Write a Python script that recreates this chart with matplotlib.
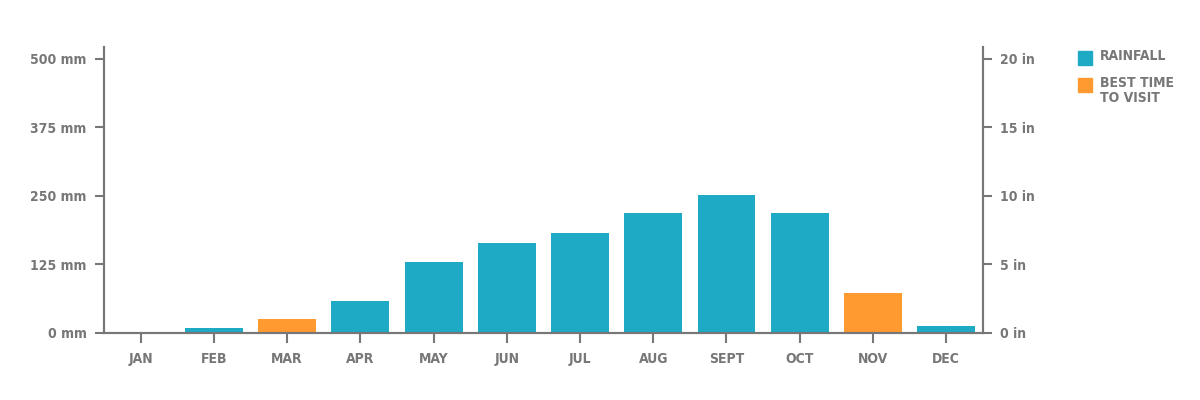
import matplotlib
matplotlib.use("Agg")
import matplotlib.pyplot as plt
from matplotlib.patches import Rectangle

months = ["JAN", "FEB", "MAR", "APR", "MAY", "JUN", "JUL", "AUG", "SEPT", "OCT", "NOV", "DEC"]
rain_mm = [0, 8, 25, 58, 129, 164, 182, 219, 252, 219, 72, 12]
best_time = [False, False, True, False, False, False, False, False, False, False, True, False]
mm_ticks = [0, 125, 250, 375, 500]
in_ticks = [0, 5, 10, 15, 20]
legend_labels = ["RAINFALL", "BEST TIME\nTO VISIT"]

teal = "#1eaac5"
orange = "#ff9a30"
grey = "#777777"

plt.rcParams["font.family"] = ["DejaVu Sans"]
plt.rcParams["font.stretch"] = "condensed"
plt.rcParams["font.weight"] = "bold"

fig = plt.figure(figsize=(12, 4), dpi=100)
ax = fig.add_axes([0.0867, 0.168, 0.7323, 0.715])

colours = [orange if b else teal for b in best_time]
ax.bar(range(len(months)), rain_mm, width=0.79, color=colours, zorder=2)

ax.set_xlim(-0.5, 11.5)
ax.set_ylim(0, 522)
ax.set_xticks(range(len(months)))
ax.set_xticklabels(months)
ax.set_yticks(mm_ticks)
ax.set_yticklabels([f"{t} mm" for t in mm_ticks])

# right axis in inches, 25 mm per inch so the ticks line up
ax2 = ax.twinx()
ax2.set_ylim(0, 522 / 25)
ax2.set_yticks(in_ticks)
ax2.set_yticklabels([f"{t} in" for t in in_ticks])

for a in (ax, ax2):
    for s in a.spines.values():
        s.set_color(grey)
        s.set_linewidth(1.5)
    a.spines["top"].set_visible(False)
    a.tick_params(colors=grey, labelcolor=grey, width=1.5, length=6.5, labelsize=10, pad=6)

ax.tick_params(axis="x", length=7, pad=7)

# legend drawn by hand so the square sits on the first text line
for i, (lab, col) in enumerate(zip(legend_labels, [teal, orange])):
    y_top = 0.8725 - i * 0.0675
    fig.add_artist(Rectangle((0.8983, y_top - 0.035), 0.01167, 0.035,
                             transform=fig.transFigure, color=col))
    fig.text(0.9167, y_top + 0.004, lab, color=grey, fontsize=10, va="top", ha="left",
             linespacing=1.1)

fig.savefig("out.png", dpi=100)
